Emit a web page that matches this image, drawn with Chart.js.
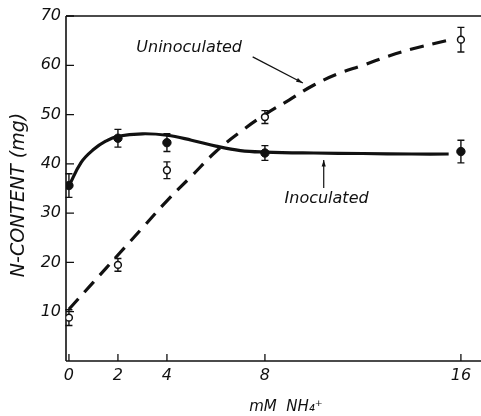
<!DOCTYPE html>
<html>
<head>
<meta charset="utf-8">
<script src="https://cdn.jsdelivr.net/npm/chart.js@4/dist/chart.umd.min.js"></script>
<style>
  html, body { margin: 0; padding: 0; background: #fff; }
  #wrap { width: 481px; height: 416px; }
</style>
</head>
<body>
<div id="wrap"><canvas id="c" width="481" height="416"></canvas></div>
<script>
// ── Data ────────────────────────────────────
const X_TICKS = [0, 2, 4, 8, 16];
const Y_TICKS = [10, 20, 30, 40, 50, 60, 70];

const DOSE = [0, 2, 4, 8, 16];
const INOC_MEAN = [35.6, 45.2, 44.3, 42.2, 42.5];
const INOC_ERR = [2.4, 1.8, 1.8, 1.5, 2.3];
const UNINOC_MEAN = [8.8, 19.5, 38.7, 49.5, 65.2];
const UNINOC_ERR = [1.6, 1.3, 1.7, 1.3, 2.5];

// fitted curves drawn in the figure
const INOC_CURVE_X = [0, 0.5, 1, 1.5, 2, 3, 4, 5, 6, 7, 8, 10, 12, 14, 15.5];
const INOC_CURVE_Y = [35.5, 40.3, 42.9, 44.6, 45.6, 46.1, 45.8, 44.8, 43.6, 42.7, 42.4, 42.2, 42.1, 42.0, 42.0];
const UNINOC_CURVE_X = [0, 1, 2, 3, 4, 5, 6, 7, 8, 9, 10, 11, 12, 13, 14, 15.4];
const UNINOC_CURVE_Y = [10.5, 16, 21.5, 27, 32.5, 37.5, 42.5, 46.5, 50, 53, 56, 58.3, 60, 61.8, 63.3, 65];

const INK = '#111';
const FONT = '"DejaVu Sans", sans-serif';

const toXY = (xs, ys) => xs.map((x, i) => ({ x, y: ys[i] }));

// ── Decorations: frame, inward ticks, error bars, labels ──
const figurePlugin = {
    id: 'figure',
    beforeDatasetsDraw(chart) {
        const { ctx, chartArea: a, scales: { x, y } } = chart;
        ctx.save();
        ctx.strokeStyle = INK;
        ctx.lineWidth = 1.6;
        ctx.beginPath();
        ctx.moveTo(a.left, a.top); ctx.lineTo(a.left, a.bottom);
        ctx.moveTo(a.left, a.bottom); ctx.lineTo(a.right, a.bottom);
        ctx.moveTo(a.left, a.top); ctx.lineTo(a.right, a.top);
        ctx.stroke();

        ctx.lineWidth = 1.3;
        ctx.beginPath();
        X_TICKS.forEach(v => {
            const px = x.getPixelForValue(v);
            ctx.moveTo(px, a.bottom); ctx.lineTo(px, a.bottom - 7);
        });
        Y_TICKS.forEach(v => {
            const py = y.getPixelForValue(v);
            ctx.moveTo(a.left, py); ctx.lineTo(a.left + 8, py);
        });
        ctx.stroke();

        // error bars
        ctx.lineWidth = 1.4;
        const bars = (means, errs) => {
            DOSE.forEach((d, i) => {
                const px = x.getPixelForValue(d);
                const lo = y.getPixelForValue(means[i] - errs[i]);
                const hi = y.getPixelForValue(means[i] + errs[i]);
                ctx.beginPath();
                ctx.moveTo(px, lo); ctx.lineTo(px, hi);
                ctx.moveTo(px - 3.5, lo); ctx.lineTo(px + 3.5, lo);
                ctx.moveTo(px - 3.5, hi); ctx.lineTo(px + 3.5, hi);
                ctx.stroke();
            });
        };
        bars(INOC_MEAN, INOC_ERR);
        bars(UNINOC_MEAN, UNINOC_ERR);
        ctx.restore();
    },
    afterDraw(chart) {
        const { ctx, scales: { x, y } } = chart;
        ctx.save();
        ctx.fillStyle = INK;
        ctx.strokeStyle = INK;

        // axis titles
        ctx.font = `oblique 15px ${FONT}`;
        ctx.textAlign = 'center';
        ctx.textBaseline = 'middle';
        ctx.fillText('mM  NH\u2084\u207A', 286, 407);
        ctx.save();
        ctx.translate(19, 195);
        ctx.rotate(-Math.PI / 2);
        ctx.font = `oblique 19px ${FONT}`;
        ctx.fillText('N-CONTENT (mg)', 0, 0);
        ctx.restore();

        // curve labels with arrows
        ctx.font = `oblique 16px ${FONT}`;
        ctx.textAlign = 'left';
        ctx.fillText('Uninoculated', x.getPixelForValue(2.75), y.getPixelForValue(63.5));
        ctx.fillText('Inoculated', x.getPixelForValue(8.8), y.getPixelForValue(33));

        const arrow = (x0, y0, x1, y1) => {
            const p0 = [x.getPixelForValue(x0), y.getPixelForValue(y0)];
            const p1 = [x.getPixelForValue(x1), y.getPixelForValue(y1)];
            const ang = Math.atan2(p1[1] - p0[1], p1[0] - p0[0]);
            ctx.lineWidth = 1.2;
            ctx.beginPath();
            ctx.moveTo(p0[0], p0[1]); ctx.lineTo(p1[0], p1[1]);
            ctx.stroke();
            ctx.beginPath();
            ctx.moveTo(p1[0], p1[1]);
            ctx.lineTo(p1[0] - 7 * Math.cos(ang - 0.3), p1[1] - 7 * Math.sin(ang - 0.3));
            ctx.lineTo(p1[0] - 7 * Math.cos(ang + 0.3), p1[1] - 7 * Math.sin(ang + 0.3));
            ctx.closePath();
            ctx.fill();
        };
        arrow(7.5, 61.7, 9.55, 56.4);
        arrow(10.4, 35.1, 10.4, 40.8);
        ctx.restore();
    },
};

new Chart(document.getElementById('c'), {
    type: 'scatter',
    data: {
        datasets: [
            {
                label: 'Inoculated',
                data: toXY(DOSE, INOC_MEAN),
                pointRadius: 4.2,
                pointBackgroundColor: INK,
                pointBorderColor: INK,
                pointBorderWidth: 1,
            },
            {
                label: 'Uninoculated',
                data: toXY(DOSE, UNINOC_MEAN),
                pointRadius: 3.4,
                pointBackgroundColor: '#fff',
                pointBorderColor: INK,
                pointBorderWidth: 1.5,
            },
            {
                label: 'Inoculated fit',
                data: toXY(INOC_CURVE_X, INOC_CURVE_Y),
                showLine: true,
                borderColor: INK,
                borderWidth: 3.2,
                pointRadius: 0,
                tension: 0.4,
            },
            {
                label: 'Uninoculated fit',
                data: toXY(UNINOC_CURVE_X, UNINOC_CURVE_Y),
                showLine: true,
                borderColor: INK,
                borderWidth: 3.2,
                borderDash: [14, 9],
                pointRadius: 0,
                tension: 0.4,
            },
        ],
    },
    options: {
        responsive: false,
        animation: false,
        events: [],
        layout: { autoPadding: false, padding: { top: 16, right: 0, left: 0, bottom: 0 } },
        plugins: { legend: { display: false }, tooltip: { enabled: false } },
        scales: {
            x: {
                type: 'linear',
                min: -0.12,
                max: 16.82,
                afterBuildTicks: s => { s.ticks = X_TICKS.map(v => ({ value: v })); },
                afterFit: s => { s.height = 55; s.paddingLeft = 0; s.paddingRight = 0; },
                grid: { display: false, drawTicks: false },
                border: { display: false },
                ticks: { color: INK, padding: 5, font: { family: FONT, size: 16, style: 'italic' } },
            },
            y: {
                type: 'linear',
                min: 0,
                max: 70,
                afterBuildTicks: s => { s.ticks = Y_TICKS.map(v => ({ value: v })); },
                afterFit: s => { s.width = 66; s.paddingTop = 0; s.paddingBottom = 0; },
                grid: { display: false, drawTicks: false },
                border: { display: false },
                ticks: { color: INK, padding: 5, font: { family: FONT, size: 16, style: 'italic' } },
            },
        },
    },
    plugins: [figurePlugin],
});
</script>
</body>
</html>
